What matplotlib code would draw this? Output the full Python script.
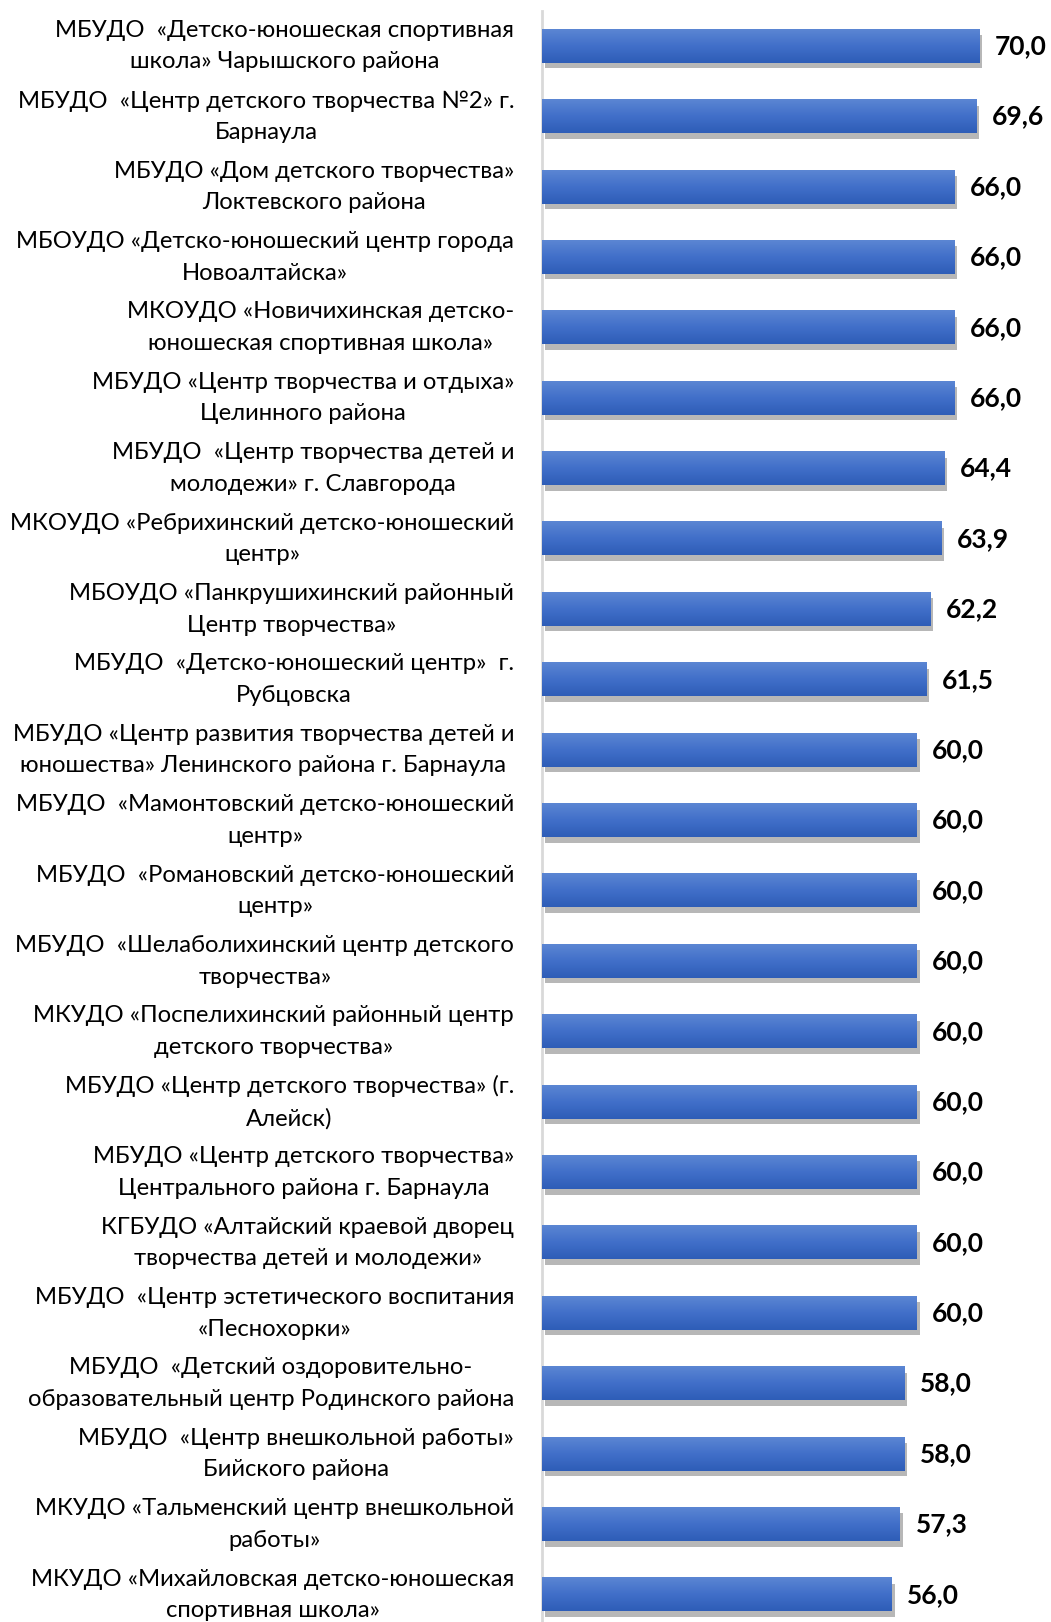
import numpy as np
import matplotlib
matplotlib.use("Agg")
import matplotlib.pyplot as plt
import matplotlib.patheffects as pe
from matplotlib.transforms import ScaledTranslation

plt.rcParams["font.family"] = ["Lato", "DejaVu Sans"]

labels = [
    "МБУДО  «Детско-юношеская спортивная\nшкола» Чарышского района",
    "МБУДО  «Центр детского творчества №2» г.\nБарнаула",
    "МБУДО «Дом детского творчества»\nЛоктевского района",
    "МБОУДО «Детско-юношеский центр города\nНовоалтайска»",
    "МКОУДО «Новичихинская детско-\nюношеская спортивная школа»",
    "МБУДО «Центр творчества и отдыха»\nЦелинного района",
    "МБУДО  «Центр творчества детей и\nмолодежи» г. Славгорода",
    "МКОУДО «Ребрихинский детско-юношеский\nцентр»",
    "МБОУДО «Панкрушихинский районный\nЦентр творчества»",
    "МБУДО  «Детско-юношеский центр»  г.\nРубцовска",
    "МБУДО «Центр развития творчества детей и\nюношества» Ленинского района г. Барнаула",
    "МБУДО  «Мамонтовский детско-юношеский\nцентр»",
    "МБУДО  «Романовский детско-юношеский\nцентр»",
    "МБУДО  «Шелаболихинский центр детского\nтворчества»",
    "МКУДО «Поспелихинский районный центр\nдетского творчества»",
    "МБУДО «Центр детского творчества» (г.\nАлейск)",
    "МБУДО «Центр детского творчества»\nЦентрального района г. Барнаула",
    "КГБУДО «Алтайский краевой дворец\nтворчества детей и молодежи»",
    "МБУДО  «Центр эстетического воспитания\n«Песнохорки»",
    "МБУДО  «Детский оздоровительно-\nобразовательный центр Родинского района",
    "МБУДО  «Центр внешкольной работы»\nБийского района",
    "МКУДО «Тальменский центр внешкольной\nработы»",
    "МКУДО «Михайловская детско-юношеская\nспортивная школа»",
]
values = [70.0, 69.6, 66.0, 66.0, 66.0, 66.0, 64.4, 63.9, 62.2, 61.5,
          60.0, 60.0, 60.0, 60.0, 60.0, 60.0, 60.0, 60.0, 60.0,
          58.0, 58.0, 57.3, 56.0]

fig = plt.figure(figsize=(10.51, 16.22), dpi=100)
ax = fig.add_axes([542 / 1051, -8 / 1622, 509 / 1051, 1619 / 1622])

y = np.arange(len(values))
h = 0.47

# shadow + base bars
bars = ax.barh(y, values, height=h, color="#4472C4", zorder=2)
for b in bars:
    b.set_path_effects([pe.SimplePatchShadow(offset=(2, -4), shadow_rgbFace="#606060", alpha=0.45),
                        pe.Normal()])

# vertical gradient over each bar
grad = np.linspace(0, 1, 64).reshape(-1, 1)
cmap = matplotlib.colors.LinearSegmentedColormap.from_list("g", ["#5B86D3", "#416FC9", "#2E5DB7"])
for yi, v in zip(y, values):
    ax.imshow(grad, extent=(0, v, yi + h / 2, yi - h / 2), cmap=cmap, aspect="auto", zorder=3)
    ax.text(v + 2.5, yi, f"{v:.1f}".replace(".", ","), va="center", ha="left",
            fontsize=19, fontweight="bold", color="black")

ax.set_xlim(0, 81.5)
ax.set_ylim(len(values) - 0.5, -0.5)
ax.set_yticks(y)
ax.set_yticklabels(labels, fontsize=17.2)
shift = ScaledTranslation(0, 3 / 100, fig.dpi_scale_trans)
for t in ax.get_yticklabels():
    t.set_multialignment("center")
    t.set_linespacing(1.62)
    t.set_verticalalignment("center")
    t.set_transform(t.get_transform() + shift)
ax.tick_params(axis="y", length=0, pad=20)
ax.tick_params(axis="x", bottom=False, labelbottom=False)
for s in ["top", "right", "bottom"]:
    ax.spines[s].set_visible(False)
ax.spines["left"].set_color("#D9D9D9")
ax.spines["left"].set_linewidth(2)

fig.savefig("out.png", dpi=100)
